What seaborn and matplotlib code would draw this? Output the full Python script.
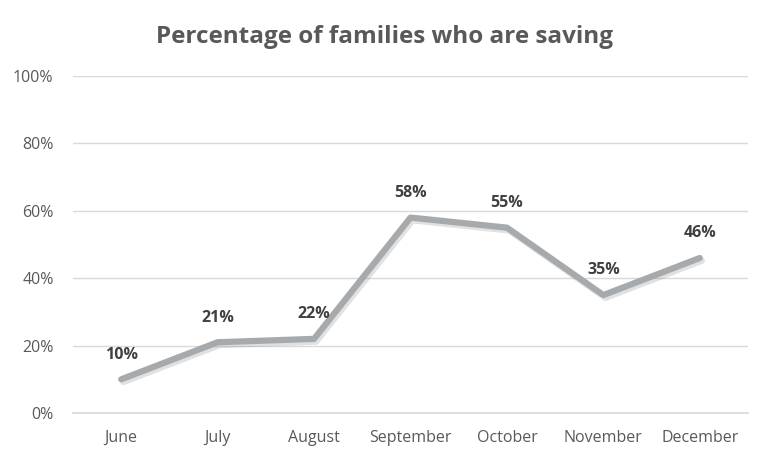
import matplotlib
matplotlib.use("Agg")
import matplotlib.pyplot as plt
import matplotlib.patheffects as pe
from matplotlib.ticker import PercentFormatter
import seaborn as sns
import pandas as pd

months = ["June", "July", "August", "September", "October", "November", "December"]
saving_pct = [10, 21, 22, 58, 55, 35, 46]

df = pd.DataFrame({"month": months, "pct": saving_pct})

sns.set_theme(style="white")
plt.rcParams['font.family'] = ['Open Sans', 'DejaVu Sans']

fig = plt.figure(figsize=(7.73, 4.62), dpi=100)
ax = fig.add_axes([0.0944, 0.106, 0.8733, 0.7295])

sns.lineplot(data=df, x="month", y="pct", ax=ax, color="#a7aaad", linewidth=4.5,
             sort=False,
             path_effects=[pe.SimpleLineShadow(offset=(1.5, -2), alpha=0.25, shadow_color="#888888"),
                           pe.Normal()])

for i, v in enumerate(saving_pct):
    ax.annotate(f"{v}%", (i, v), xytext=(0, 12), textcoords="offset points",
                ha="center", va="bottom", fontsize=11.5, fontweight="bold", color="#404040")

ax.set_xlim(-0.5, 6.5)
ax.set_ylim(0, 100)
ax.set_yticks(range(0, 101, 20))
ax.yaxis.set_major_formatter(PercentFormatter(decimals=0))
ax.grid(axis="y", color="#d9d9d9", linewidth=1)
ax.set_axisbelow(True)
for s in ["top", "right", "left"]:
    ax.spines[s].set_visible(False)
ax.spines["bottom"].set_color("#d9d9d9")
ax.tick_params(axis="both", length=0, labelsize=11.5, labelcolor="#595959")
ax.tick_params(axis="x", pad=12)
ax.tick_params(axis="y", pad=14)
ax.set_xlabel("")
ax.set_ylabel("")
fig.suptitle("Percentage of families who are saving", x=0.497, y=0.945,
             fontsize=17.5, fontweight="bold", color="#595959")

fig.savefig("out.png", dpi=100)
